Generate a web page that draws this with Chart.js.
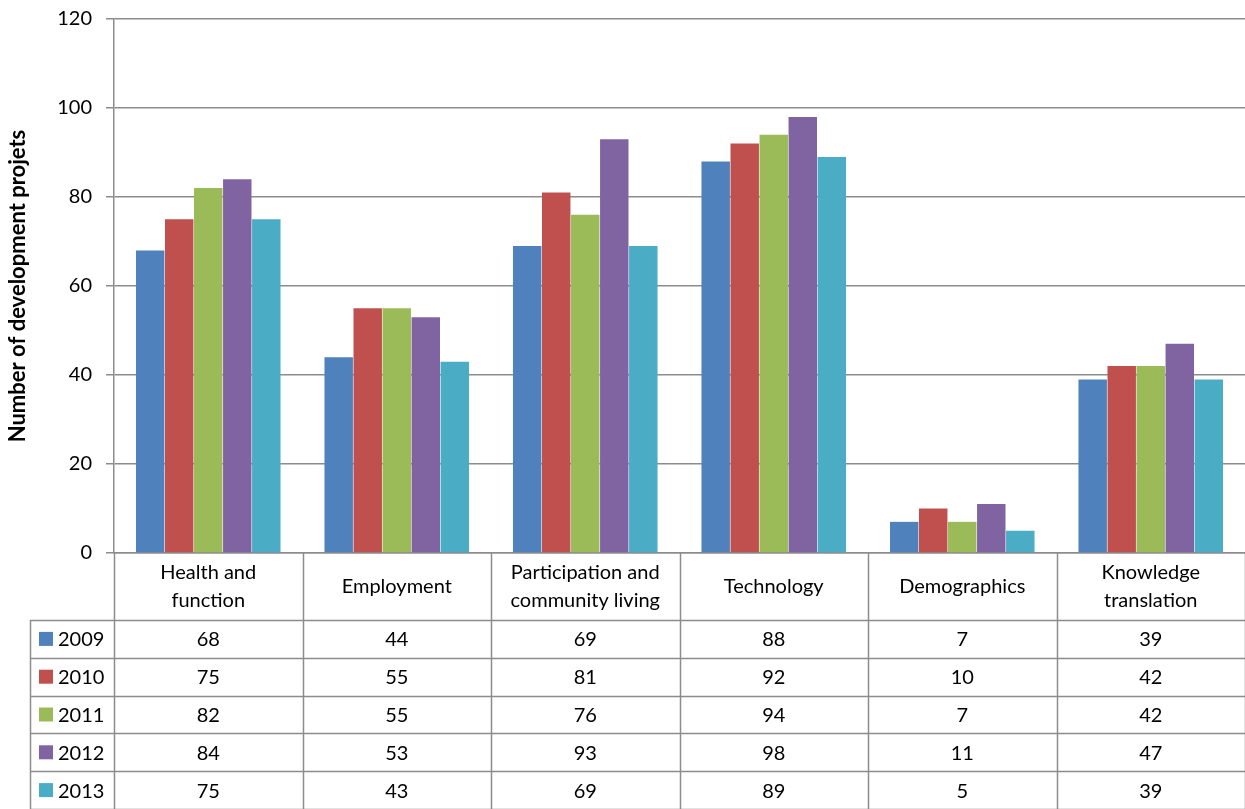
<!DOCTYPE html>
<html>
<head>
<meta charset="utf-8">
<script src="https://cdn.jsdelivr.net/npm/chart.js@4.4.0/dist/chart.umd.min.js"></script>
<style>
  html, body { margin: 0; padding: 0; background: #fff; }
  #wrap { width: 1245px; height: 809px; position: relative; }
</style>
</head>
<body>
<div id="wrap"><canvas id="projChart"></canvas></div>
<script>
// categories (multi-line labels for the data table header)
const categories = [
  ["Health and", "function"],
  ["Employment"],
  ["Participation and", "community living"],
  ["Technology"],
  ["Demographics"],
  ["Knowledge", "translation"]
];
const years = ["2009", "2010", "2011", "2012", "2013"];
const v2009 = [68, 44, 69, 88, 7, 39];
const v2010 = [75, 55, 81, 92, 10, 42];
const v2011 = [82, 55, 76, 94, 7, 42];
const v2012 = [84, 53, 93, 98, 11, 47];
const v2013 = [75, 43, 69, 89, 5, 39];
const yTicks = [0, 20, 40, 60, 80, 100, 120];

const colors = ["#4F81BD", "#C0504D", "#9BBB59", "#8064A2", "#4BACC6"];
const seriesValues = [v2009, v2010, v2011, v2012, v2013];
const FONT = "Lato, 'Open Sans', sans-serif";
const LINE = "#8c8c8c";

// draws the data table under the plot, aligned with the category scale
const dataTable = {
  id: "dataTable",
  afterDraw(chart) {
    const ctx = chart.ctx;
    const area = chart.chartArea;
    const xs = chart.scales.x;
    const n = categories.length;
    const catW = (area.right - area.left) / n;
    const headTop = area.bottom;
    const headBottom = 620;
    const rowH = (chart.height - headBottom) / years.length;
    const legLeft = 30;

    ctx.save();
    ctx.strokeStyle = LINE;
    ctx.lineWidth = 1.5;

    // horizontal row lines
    for (let r = 0; r <= years.length; r++) {
      const y = Math.round(headBottom + r * rowH) + 0.5;
      ctx.beginPath();
      ctx.moveTo(legLeft, y);
      ctx.lineTo(area.right, y);
      ctx.stroke();
    }
    // vertical lines
    ctx.beginPath();
    ctx.moveTo(legLeft + 0.5, headBottom);
    ctx.lineTo(legLeft + 0.5, chart.height);
    ctx.stroke();
    for (let i = 0; i <= n; i++) {
      const x = Math.round(area.left + i * catW) + 0.5;
      ctx.beginPath();
      ctx.moveTo(x, headTop);
      ctx.lineTo(x, chart.height);
      ctx.stroke();
    }

    ctx.fillStyle = "#000";
    ctx.font = "20px " + FONT;
    ctx.textAlign = "center";
    ctx.textBaseline = "middle";

    // header labels
    categories.forEach((lab, i) => {
      const cx = xs.getPixelForTick(i);
      const cy = (headTop + headBottom) / 2;
      const lh = 28;
      lab.forEach((t, k) => {
        ctx.fillText(t, cx, cy + (k - (lab.length - 1) / 2) * lh);
      });
    });

    // rows
    years.forEach((yr, r) => {
      const cy = headBottom + r * rowH + rowH / 2;
      ctx.fillStyle = colors[r];
      ctx.fillRect(39, cy - 7, 14, 14);
      ctx.fillStyle = "#000";
      ctx.textAlign = "left";
      ctx.fillText(yr, 58, cy + 1);
      ctx.textAlign = "center";
      seriesValues[r].forEach((v, i) => {
        ctx.fillText(String(v), xs.getPixelForTick(i), cy + 1);
      });
    });
    ctx.restore();
  }
};

new Chart(document.getElementById("projChart"), {
  type: "bar",
  data: {
    labels: categories.map(c => c.join(" ")),
    datasets: years.map((yr, i) => ({
      label: yr,
      data: seriesValues[i],
      backgroundColor: colors[i],
      categoryPercentage: 0.77,
      barPercentage: 0.98
    }))
  },
  options: {
    responsive: true,
    maintainAspectRatio: false,
    animation: false,
    layout: { padding: { top: 19, right: 0, bottom: 248, left: 0 } },
    plugins: {
      legend: { display: false },
      tooltip: { enabled: false }
    },
    scales: {
      x: {
        ticks: { display: false },
        grid: { display: false },
        border: { color: LINE, width: 1.5 }
      },
      y: {
        min: 0,
        max: 120,
        afterBuildTicks: s => { s.ticks = yTicks.map(v => ({ value: v })); },
        afterFit: s => { s.width = 114; s.paddingTop = 0; s.paddingBottom = 0; },
        ticks: {
          color: "#000",
          padding: 14,
          font: { family: FONT, size: 20 }
        },
        grid: {
          color: LINE,
          lineWidth: 1.5,
          tickLength: 8
        },
        border: { color: LINE, width: 1.5 },
        title: {
          display: true,
          text: "Number of development projets",
          color: "#000",
          font: { family: FONT, size: 22, weight: "bold" },
          padding: { top: 5, bottom: 0 }
        }
      }
    }
  },
  plugins: [dataTable]
});
</script>
</body>
</html>
